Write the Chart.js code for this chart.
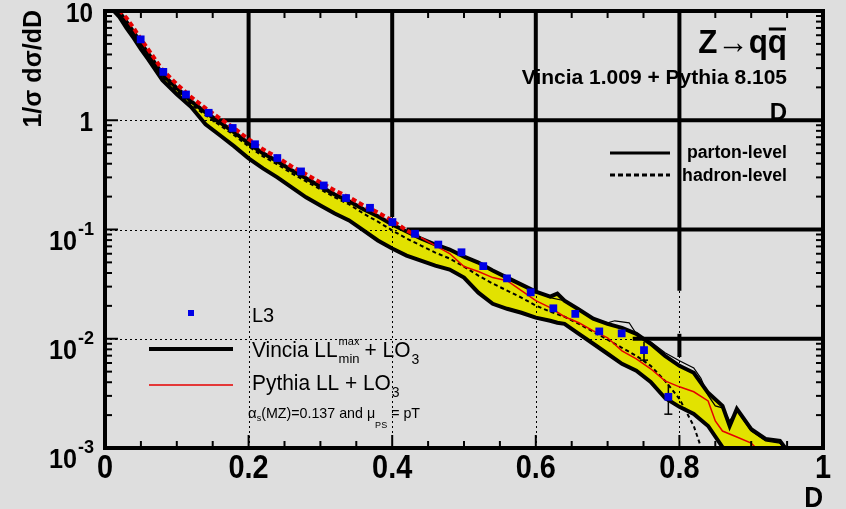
<!DOCTYPE html>
<html>
<head>
<meta charset="utf-8">
<script src="https://cdn.jsdelivr.net/npm/chart.js@4.4.0/dist/chart.umd.min.js"></script>
<style>
  html, body { margin: 0; padding: 0; background: #dedede; }
  #wrap { width: 846px; height: 509px; position: relative; }
</style>
</head>
<body>
<div id="wrap"><canvas id="c"></canvas></div>
<script>
// values

// Vincia band (parton-level upper / lower edge)
const bandX = [0.01,0.02,0.03,0.04,0.05,0.06,0.08,0.10,0.12,0.14,0.16,0.18,0.20,0.22,0.24,0.26,0.28,0.30,0.32,0.34,0.36,0.38,0.40,0.42,0.44,0.46,0.48,0.50,0.52,0.54,0.56,0.58,0.60,0.62,0.63,0.64,0.66,0.68,0.70,0.72,0.74,0.76,0.78,0.80,0.82,0.84,0.86,0.87,0.88,0.90,0.92,0.94,0.95];
const bandUpper = [11.1,9.79,7.93,6.42,5.09,4.12,2.64,1.97,1.49,1.18,0.959,0.776,0.615,0.498,0.421,0.348,0.294,0.248,0.209,0.181,0.153,0.132,0.111,0.0959,0.0827,0.0729,0.0655,0.0565,0.0498,0.0421,0.0363,0.0313,0.0270,0.0243,0.0259,0.0223,0.0185,0.0153,0.0137,0.0126,0.0111,0.0090,0.00698,0.00565,0.00488,0.00320,0.00243,0.00159,0.00228,0.00149,0.00121,0.00116,0.00095];
const bandLower = [10.4,8.81,6.98,5.65,4.48,3.63,2.33,1.73,1.32,0.919,0.729,0.577,0.448,0.363,0.300,0.243,0.197,0.166,0.140,0.121,0.0981,0.0793,0.0670,0.0577,0.0520,0.0467,0.0430,0.0363,0.0264,0.0209,0.0188,0.0173,0.0156,0.0146,0.0140,0.0137,0.0111,0.0090,0.00729,0.0059,0.00509,0.00403,0.00287,0.00238,0.00205,0.00159,0.00102,0.0009,0.0009,0.0009,0.0009,0.0009,0.0009];

// hadron-level (dashed)
const hadronX = [0.02,0.04,0.06,0.08,0.10,0.12,0.14,0.16,0.18,0.20,0.22,0.24,0.26,0.28,0.30,0.32,0.34,0.36,0.38,0.40,0.42,0.44,0.46,0.48,0.50,0.52,0.54,0.56,0.58,0.60,0.62,0.64,0.66,0.68,0.70,0.72,0.74,0.76,0.78,0.80,0.82,0.83,0.84];
const hadronY = [9.39,6.03,3.87,2.48,1.85,1.40,1.11,0.900,0.729,0.577,0.467,0.395,0.326,0.276,0.233,0.197,0.170,0.140,0.118,0.0981,0.0827,0.0713,0.0615,0.0542,0.0458,0.0378,0.0320,0.0276,0.0238,0.0201,0.0177,0.0159,0.0137,0.0116,0.0098,0.00827,0.00698,0.00565,0.00412,0.00282,0.00159,0.00102,0.0008];

// Pythia LL + LO3 (red)
const pythiaX = [0.02,0.03,0.04,0.05,0.06,0.08,0.10,0.12,0.14,0.16,0.18,0.20,0.22,0.24,0.26,0.28,0.30,0.32,0.34,0.36,0.38,0.40,0.42,0.44,0.46,0.48,0.50,0.52,0.54,0.56,0.58,0.60,0.62,0.64,0.66,0.68,0.70,0.72,0.74,0.76,0.78,0.80,0.82,0.84,0.85,0.86,0.88,0.90,0.91];
const pythiaY = [10.2,8.63,6.98,5.53,4.48,2.88,2.14,1.63,1.29,1.04,0.845,0.670,0.542,0.458,0.378,0.320,0.270,0.228,0.197,0.166,0.143,0.121,0.0981,0.0845,0.0713,0.0603,0.0458,0.0412,0.0363,0.0340,0.0276,0.0223,0.0193,0.0159,0.0140,0.0118,0.0102,0.00776,0.00655,0.00531,0.00412,0.00363,0.00327,0.00270,0.00177,0.00143,0.00126,0.00111,0.00095];

// thin black curve in the tail
const thinX = [0.58,0.60,0.62,0.64,0.66,0.68,0.70,0.71,0.73,0.74,0.76,0.78,0.80,0.82,0.83,0.84,0.85,0.86,0.87,0.88,0.90,0.92,0.94,0.95];
const thinY = [0.0313,0.0270,0.0238,0.0223,0.0185,0.0153,0.0140,0.0146,0.0140,0.0111,0.0094,0.00745,0.00629,0.00541,0.00434,0.00303,0.00243,0.00233,0.00177,0.00221,0.00143,0.00116,0.00111,0.00095];

// L3 data
const l3X = [0.0497,0.0812,0.1128,0.1444,0.1778,0.2089,0.2400,0.2730,0.3046,0.3357,0.3691,0.4003,0.4318,0.4642,0.4965,0.5268,0.5599,0.5929,0.6244,0.6550,0.6884,0.7196,0.7507,0.7846];
const l3Y = [5.50,2.77,1.72,1.17,0.85,0.603,0.451,0.340,0.253,0.194,0.158,0.117,0.0914,0.0728,0.0619,0.0462,0.0357,0.0266,0.0190,0.0169,0.01167,0.0112,0.00787,0.00294];
const l3Err = [0.15,0.07,0.04,0.03,0.02,0.015,0.012,0.009,0.007,0.006,0.005,0.004,0.003,0.0025,0.002,0.0018,0.0015,0.0012,0.001,0.001,0.0008,0.0008,0.0015,0.0009];

// axis ticks
const xTickValues = [0, 0.2, 0.4, 0.6, 0.8, 1];
const xTickLabels = ['0', '0.2', '0.4', '0.6', '0.8', '1'];
const yTickValues = [0.001, 0.01, 0.1, 1, 10];
const yTickBase = ['10', '10', '10', '1', '10'];
const yTickExp = ['-3', '-2', '-1', '', ''];

// heavy grid pieces (data units): [x, yFrom, yTo] and [y, xFrom, xTo]
const heavyV = [[0.2, 10, 0.62], [0.4, 10, 0.13], [0.6, 10, 0.026], [0.8, 10, 0.0275], [0.8, 0.0111, 0.0068]];
const heavyH = [[1, 0.15, 1], [0.1, 0.42, 1], [0.01, 0.735, 1]];

const FONT = '"Liberation Sans", Arial, sans-serif';

function pts(xs, ys) {
    return xs.map((x, i) => ({x: x, y: ys[i]}));
}

function text(ctx, s, x, y, size, bold, align, sx) {
    sx = sx || 1;
    ctx.save();
    ctx.font = (bold ? 'bold ' : '') + size + 'px ' + FONT;
    ctx.textAlign = align || 'left';
    ctx.textBaseline = 'alphabetic';
    ctx.fillStyle = '#000';
    ctx.translate(x, y);
    ctx.scale(sx, 1);
    ctx.fillText(s, 0, 0);
    const w = ctx.measureText(s).width * sx;
    ctx.restore();
    return w;
}

function measure(ctx, s, size, bold, sx) {
    ctx.save();
    ctx.font = (bold ? 'bold ' : '') + size + 'px ' + FONT;
    const w = ctx.measureText(s).width * (sx || 1);
    ctx.restore();
    return w;
}

function line(ctx, x1, y1, x2, y2) {
    ctx.beginPath();
    ctx.moveTo(x1, y1);
    ctx.lineTo(x2, y2);
    ctx.stroke();
}

const rootStyle = {
    id: 'rootStyle',
    beforeDatasetsDraw(chart) {
        const ctx = chart.ctx;
        const xs = chart.scales.x, ys = chart.scales.y;
        const a = chart.chartArea;
        ctx.save();
        ctx.strokeStyle = '#000';
        // dotted grid
        ctx.lineWidth = 1;
        ctx.setLineDash([2, 3]);
        xTickValues.slice(1, -1).forEach(v => {
            const px = Math.round(xs.getPixelForValue(v)) + 0.5;
            line(ctx, px, a.top, px, a.bottom);
        });
        yTickValues.slice(1, -1).forEach(v => {
            const py = Math.round(ys.getPixelForValue(v)) + 0.5;
            line(ctx, a.left, py, a.right, py);
        });
        // heavy grid pieces
        ctx.setLineDash([]);
        ctx.lineWidth = 4;
        heavyV.forEach(s => {
            const px = xs.getPixelForValue(s[0]);
            line(ctx, px, ys.getPixelForValue(s[1]), px, ys.getPixelForValue(s[2]));
        });
        heavyH.forEach(s => {
            const py = ys.getPixelForValue(s[0]);
            line(ctx, xs.getPixelForValue(s[1]), py, xs.getPixelForValue(s[2]), py);
        });
        // L3 error bars
        ctx.lineWidth = 1.5;
        l3X.forEach((x, i) => {
            const px = xs.getPixelForValue(x);
            const pyc = ys.getPixelForValue(l3Y[i]);
            const pyl = ys.getPixelForValue(Math.max(l3Y[i] - l3Err[i], 0.0005));
            const pyh = ys.getPixelForValue(l3Y[i] + l3Err[i]);
            line(ctx, px, pyh, px, pyl);
            if (pyl - pyc > 6) line(ctx, px - 4, pyl, px + 4, pyl);
        });
        ctx.restore();
    },
    afterDraw(chart) {
        const ctx = chart.ctx;
        const xs = chart.scales.x, ys = chart.scales.y;
        const a = chart.chartArea;
        ctx.save();
        ctx.strokeStyle = '#000';
        ctx.fillStyle = '#000';

        // axis ticks (inside the frame)
        ctx.lineWidth = 2;
        for (let i = 1; i < 20; i++) {
            const v = i * 0.05;
            const px = xs.getPixelForValue(v);
            const len = (i % 4 === 0) ? 13 : 7;
            line(ctx, px, a.bottom, px, a.bottom - len);
            line(ctx, px, a.top, px, a.top + len);
        }
        for (let d = -3; d <= 0; d++) {
            for (let k = 1; k <= 9; k++) {
                const v = k * Math.pow(10, d);
                const py = ys.getPixelForValue(v);
                const len = k === 1 ? 13 : 7;
                line(ctx, a.left, py, a.left + len, py);
                line(ctx, a.right, py, a.right - len, py);
            }
        }

        // frame
        ctx.lineWidth = 4;
        ctx.strokeRect(a.left, a.top, a.right - a.left, a.bottom - a.top);

        // x tick labels
        xTickValues.forEach((v, i) => {
            text(ctx, xTickLabels[i], xs.getPixelForValue(v), 478, 34, true, 'center', 0.85);
        });
        // y tick labels
        yTickValues.forEach((v, i) => {
            const py = ys.getPixelForValue(v);
            if (yTickExp[i]) {
                const w = text(ctx, yTickExp[i], 94, py + 5, 19, true, 'right', 0.95);
                text(ctx, yTickBase[i], 94 - w - 1, py + 20, 28, true, 'right', 0.9);
            } else {
                text(ctx, yTickBase[i], 93, py + 11, 27, true, 'right', 0.9);
            }
        });
        // axis titles
        text(ctx, 'D', 823, 507, 29, true, 'right', 0.9);
        ctx.save();
        ctx.translate(41, 10);
        ctx.rotate(-Math.PI / 2);
        text(ctx, '1/\u03c3 d\u03c3/dD', 0, 0, 25, true, 'right', 1);
        ctx.restore();

        // process labels, top right
        text(ctx, 'Z\u2192qq', 787, 53, 33, true, 'right', 0.95);
        const qw = measure(ctx, 'q', 33, true, 0.95);
        ctx.lineWidth = 3;
        line(ctx, 787 - qw + 1, 29, 786, 29);
        text(ctx, 'Vincia 1.009 + Pythia 8.105', 787, 84, 21, true, 'right', 1);
        text(ctx, 'D', 787, 120, 24, true, 'right', 1);

        // parton / hadron legend
        ctx.lineWidth = 3;
        line(ctx, 610, 153, 670, 153);
        ctx.setLineDash([5, 3]);
        line(ctx, 610, 175, 670, 175);
        ctx.setLineDash([]);
        text(ctx, 'parton-level', 787, 158, 18, true, 'right', 0.98);
        text(ctx, 'hadron-level', 787, 181, 18, true, 'right', 0.98);

        // lower-left legend
        ctx.fillStyle = '#0000e6';
        ctx.fillRect(188, 310, 6, 6);
        ctx.fillStyle = '#000';
        text(ctx, 'L3', 252, 322, 20, false, 'left', 1);

        ctx.lineWidth = 4;
        line(ctx, 149, 349, 233, 349);
        let x = 252;
        x += text(ctx, 'Vincia LL', x, 357, 22, false, 'left', 0.95);
        const mw = text(ctx, 'max', x + 1, 345, 11, false, 'left', 1);
        const nw = text(ctx, 'min', x + 1, 363, 13, false, 'left', 1);
        x += Math.max(mw, nw) + 6;
        x += text(ctx, '+ LO', x, 357, 22, false, 'left', 0.95);
        text(ctx, '3', x + 1, 364, 14, false, 'left', 1);

        ctx.strokeStyle = '#e60000';
        ctx.lineWidth = 1.5;
        line(ctx, 149, 385, 233, 385);
        x = 252;
        x += text(ctx, 'Pythia LL + LO', x, 390, 22, false, 'left', 0.95);
        text(ctx, '3', x + 1, 397, 14, false, 'left', 1);

        x = 248;
        x += text(ctx, '\u03b1', x, 418, 15, false, 'left', 1);
        x += text(ctx, 's', x, 421, 9, false, 'left', 1);
        x += text(ctx, '(MZ)=0.137 and \u03bc', x, 418, 15, false, 'left', 0.95);
        x += text(ctx, 'PS', x, 428, 9, false, 'left', 1) + 4;
        text(ctx, '= pT', x, 418, 15, false, 'left', 0.95);

        ctx.restore();
    }
};

const chart = new Chart(document.getElementById('c'), {
    type: 'line',
    data: {
        datasets: [
            {
                label: 'L3',
                data: pts(l3X, l3Y),
                showLine: false,
                pointStyle: 'rect',
                pointRadius: 5.5,
                pointBackgroundColor: '#0000e6',
                pointBorderWidth: 0,
                clip: 0
            },
            {
                label: 'Pythia LL + LO3',
                data: pts(pythiaX, pythiaY),
                borderColor: '#e60000',
                borderWidth: 1.5,
                pointRadius: 0,
                clip: 0,
                segment: {
                    borderWidth: c => c.p0.parsed.x < 0.43 ? 4 : undefined,
                    borderDash: c => c.p0.parsed.x < 0.43 ? [5, 3] : undefined
                }
            },
            {
                label: 'hadron-level',
                data: pts(hadronX, hadronY),
                borderColor: '#000',
                borderWidth: 2,
                borderDash: [4, 3],
                pointRadius: 0,
                clip: 0
            },
            {
                label: 'thin',
                data: pts(thinX, thinY),
                borderColor: '#000',
                borderWidth: 1.2,
                pointRadius: 0,
                clip: 0
            },
            {
                label: 'band upper',
                data: pts(bandX, bandUpper),
                borderColor: '#000',
                borderWidth: 4,
                pointRadius: 0,
                fill: '+1',
                backgroundColor: '#e2e200',
                clip: 0
            },
            {
                label: 'band lower',
                data: pts(bandX, bandLower),
                borderColor: '#000',
                borderWidth: 4,
                pointRadius: 0,
                clip: 0
            }
        ]
    },
    options: {
        responsive: true,
        maintainAspectRatio: false,
        animation: false,
        layout: { padding: { left: 105, right: 23, top: 11, bottom: 61 } },
        scales: {
            x: { type: 'linear', min: 0, max: 1, display: false },
            y: { type: 'logarithmic', min: 0.001, max: 10, display: false }
        },
        plugins: {
            legend: { display: false },
            tooltip: { enabled: false },
            filler: { drawTime: 'beforeDraw' }
        }
    },
    plugins: [rootStyle]
});
</script>
</body>
</html>
